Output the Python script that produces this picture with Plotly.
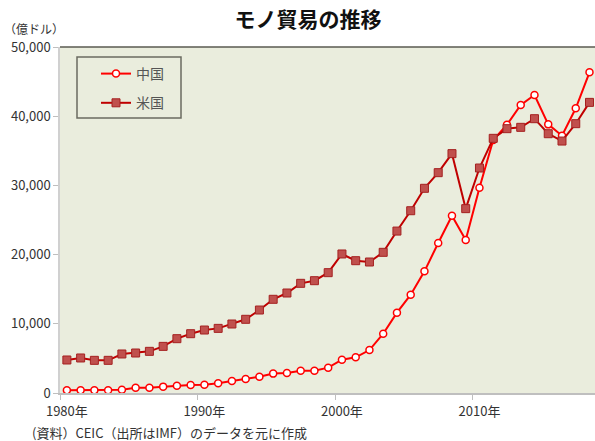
import plotly.graph_objects as go

# 年
years = list(range(1980, 2019))

# モノ貿易（輸出＋輸入）、億ドル
china = [390, 390, 390, 410, 480, 770, 770, 920, 1060, 1160,
         1200, 1400, 1730, 2020, 2360, 2800, 2890, 3230, 3230, 3660,
         4820, 5150, 6210, 8570, 11610, 14210, 17580, 21680, 25620, 22100,
         29670, 36560, 38780, 41620, 43060, 38820, 37180, 41140, 46340]
usa = [4770, 5060, 4720, 4720, 5640, 5780, 6020, 6740, 7850, 8570,
       9100, 9340, 9970, 10650, 11990, 13540, 14450, 15850, 16230, 17390,
       20090, 19120, 18930, 20330, 23400, 26340, 29580, 31840, 34590, 26640,
       32510, 36800, 38200, 38390, 39640, 37470, 36410, 38920, 42000]

x_ticks = [1980, 1990, 2000, 2010]
x_labels = ['1980年', '1990年', '2000年', '2010年']
y_ticks = [0, 10000, 20000, 30000, 40000, 50000]

FONT = 'Noto Sans CJK JP'
BG = '#EAEDDD'

fig = go.Figure()

fig.add_trace(go.Scatter(
    x=years, y=china, name='中国', mode='lines+markers', legendgroup='a',
    line=dict(color='#FF0000', width=2),
    marker=dict(symbol='circle', size=7, color='white',
                line=dict(color='#FF0000', width=1.5)),
))
fig.add_trace(go.Scatter(
    x=years, y=usa, name='米国', mode='lines+markers', legendgroup='b',
    line=dict(color='#C00000', width=2),
    marker=dict(symbol='square', size=8, color='#C0504D',
                line=dict(color='#A52020', width=1)),
))

# legend box
fig.add_shape(type='rect', xref='paper', yref='paper',
              x0=17 / 535, x1=121 / 535, y0=(393 - 118) / 346, y1=(393 - 57) / 346,
              line=dict(color='#6B6B60', width=1.5), fillcolor=BG, layer='below')
# top border of plot area
fig.add_shape(type='line', xref='paper', yref='paper', x0=0, x1=1, y0=1, y1=1,
              line=dict(color='#5A5A50', width=1.5))

fig.update_layout(
    width=595, height=441,
    margin=dict(l=60, r=0, t=47, b=48),
    paper_bgcolor='white', plot_bgcolor=BG,
    font=dict(family=FONT, size=13, color='#333333'),
    title=dict(text='<b>モノ貿易の推移</b>', x=308 / 595, xanchor='center',
               y=1 - 20 / 441, yanchor='middle', font=dict(size=21, color='#111111')),
    showlegend=True,
    legend=dict(x=36 / 535, y=(393 - 58) / 346, xanchor='left', yanchor='top',
                bgcolor='rgba(0,0,0,0)', borderwidth=0, tracegroupgap=8,
                font=dict(size=14, color='#555555')),
    xaxis=dict(range=[1979.5, 2018.4], tickmode='array', tickvals=x_ticks,
               ticktext=x_labels, ticks='', showgrid=False, zeroline=False,
               showline=True, linecolor='#BFBFBF', linewidth=1.5,
               ticklabelstandoff=6,
               minor=dict(tickmode='array', tickvals=[v - 0.5 for v in x_ticks],
                          ticks='outside', ticklen=5, tickcolor='#BFBFBF')),
    yaxis=dict(range=[0, 50000], tickvals=y_ticks, tickformat=',d',
               ticks='outside', ticklen=5, tickcolor='#BFBFBF',
               showgrid=False, zeroline=False, showline=True,
               linecolor='#D0D0D0', linewidth=1.5),
    annotations=[
        dict(text='（億ドル）', xref='paper', yref='paper', x=-58 / 535, y=(393 - 28) / 346,
             xanchor='left', yanchor='middle', showarrow=False, font=dict(size=12, color='#333333')),
        dict(text='(資料）CEIC（出所はIMF）のデータを元に作成', xref='paper', yref='paper',
             x=-30 / 535, y=(393 - 432) / 346, xanchor='left', yanchor='middle',
             showarrow=False, font=dict(size=13, color='#333333')),
    ],
)

fig.write_html('out.html', config={'displayModeBar': False},
               post_script="document.body.style.margin='0';")
